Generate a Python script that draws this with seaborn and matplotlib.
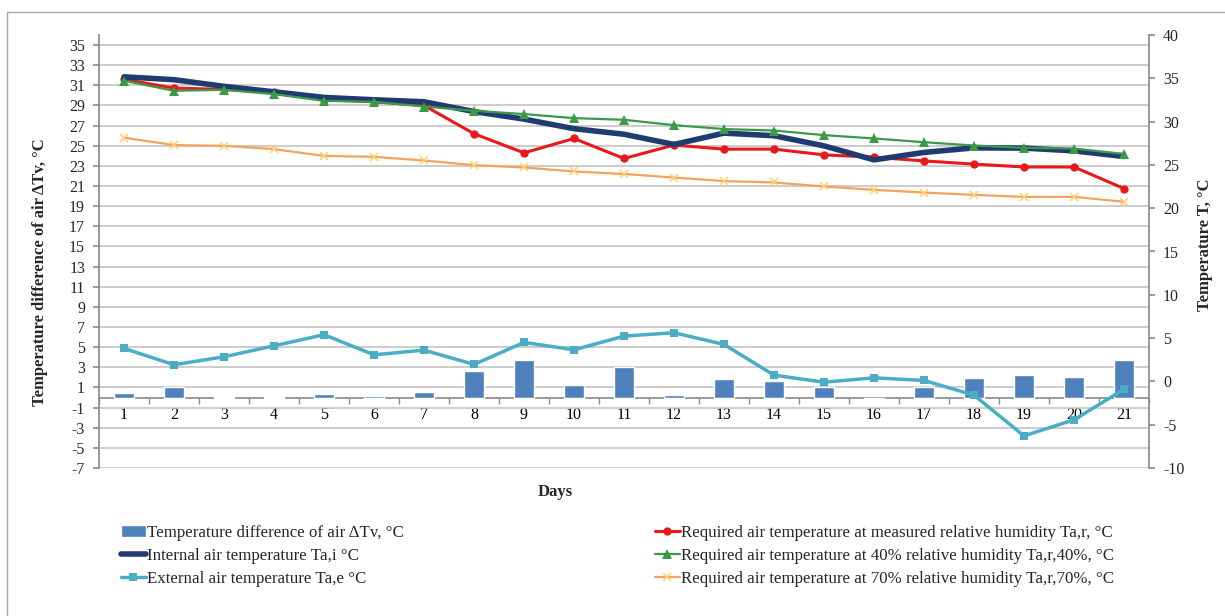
import matplotlib
matplotlib.use("Agg")
import matplotlib.pyplot as plt
from matplotlib.patches import Rectangle
from matplotlib.ticker import FixedLocator, NullFormatter
import seaborn as sns
import pandas as pd
import numpy as np

# data
days = [str(d) for d in range(1, 22)]

# temperature difference of air dTv (left axis)
dtv = [0.4, 1.07, 0.1, 0.1, 0.3, 0.17, 0.5, 2.6, 3.77, 1.2, 3.03,
       0.23, 1.83, 1.67, 1.03, -0.17, 1.0, 1.9, 2.2, 2.03, 3.7]

# temperatures on right axis
t_internal = [35.17, 34.84, 34.07, 33.44, 32.79, 32.52, 32.29, 31.16, 30.29, 29.18, 28.54,
              27.36, 28.67, 28.37, 27.2, 25.58, 26.44, 26.97, 26.94, 26.62, 25.97]
t_required = [34.88, 33.87, 33.72, 33.37, 32.52, 32.29, 31.86, 28.6, 26.39, 28.05, 25.74,
              27.29, 26.82, 26.82, 26.16, 25.89, 25.46, 25.09, 24.76, 24.76, 22.27]
t_req40 = [34.72, 33.56, 33.67, 33.17, 32.4, 32.29, 31.74, 31.25, 30.87, 30.4, 30.21,
           29.59, 29.14, 28.97, 28.44, 28.05, 27.62, 27.24, 26.97, 26.89, 26.27]
t_external = [3.81, 1.92, 2.84, 4.11, 5.39, 3.07, 3.61, 1.96, 4.5, 3.65, 5.23,
              5.62, 4.27, 0.72, -0.09, 0.41, 0.11, -1.59, -6.29, -4.44, -0.9]
t_req70 = [28.14, 27.29, 27.2, 26.82, 26.04, 25.93, 25.51, 24.97, 24.7, 24.24, 23.95,
           23.54, 23.13, 22.97, 22.51, 22.12, 21.81, 21.54, 21.31, 21.31, 20.74]

lbl_bar = "Temperature difference of air \u0394Tv, \u00b0C"
lbl_req = "Required air temperature at measured relative humidity Ta,r, \u00b0C"
lbl_int = "Internal air temperature Ta,i \u00b0C"
lbl_40 = "Required air temperature at 40% relative humidity Ta,r,40%, \u00b0C"
lbl_ext = "External air temperature Ta,e \u00b0C"
lbl_70 = "Required air temperature at 70% relative humidity Ta,r,70%, \u00b0C"

sns.set_theme(style="white")
plt.rcParams['font.family'] = ['Liberation Serif', 'DejaVu Serif']
plt.rcParams['axes.unicode_minus'] = False

df = pd.DataFrame({"day": days, "dtv": dtv})
pos = np.arange(len(days))

fig = plt.figure(figsize=(12.25, 6.16), dpi=100)
ax = fig.add_axes([99 / 1225, 1 - 468 / 616, (1149 - 99) / 1225, (468 - 35) / 616])

sns.barplot(data=df, x="day", y="dtv", ax=ax, color="#4F81BD", saturation=1,
            width=0.41, label=lbl_bar, zorder=3)

ax.set_ylim(-7, 36)
ax.set_yticks(np.arange(-7, 36, 2))
ax.set_xlim(-0.5, 20.5)
ax.yaxis.grid(True, color="#BFBFBF", lw=1.1, zorder=0)
ax.set_axisbelow(True)
ax.spines['bottom'].set_position(('data', 0))
for s in ['top', 'right']:
    ax.spines[s].set_visible(False)
ax.spines['left'].set_color("#8C8C8C")
ax.spines['bottom'].set_color("#8C8C8C")
ax.xaxis.set_minor_locator(FixedLocator(np.arange(-0.5, 21, 1)))
ax.xaxis.set_minor_formatter(NullFormatter())
ax.tick_params(axis='x', which='major', length=0, pad=7, labelsize=11.5, colors="#000000")
ax.tick_params(axis='x', which='minor', length=4, color="#8C8C8C", direction='out', bottom=True)
ax.tick_params(axis='y', length=4, color="#8C8C8C", left=True, labelsize=11.5, pad=6)
ax.set_xlabel("")
ax.set_ylabel("")

ax2 = ax.twinx()
sns.lineplot(x=pos, y=t_required, ax=ax2, color="#E8181B", lw=2.2, marker='o',
             markersize=6, markeredgewidth=0, label=lbl_req, zorder=4)
sns.lineplot(x=pos, y=t_internal, ax=ax2, color="#1F3B6F", lw=4, label=lbl_int, zorder=5)
sns.lineplot(x=pos, y=t_req40, ax=ax2, color="#3A9A48", lw=1.6, marker='^',
             markersize=7, markeredgewidth=0, label=lbl_40, zorder=6)
sns.lineplot(x=pos, y=t_external, ax=ax2, color="#4BACC6", lw=2.5, marker='s',
             markersize=6, markeredgewidth=0, label=lbl_ext, zorder=7)
sns.lineplot(x=pos, y=t_req70, ax=ax2, color="#F5A25D", lw=1.6, marker='x',
             markersize=6, markeredgewidth=1.2, markeredgecolor="#FFD27A", label=lbl_70, zorder=8)

ax2.set_ylim(-10, 40)
ax2.set_yticks(np.arange(-10, 41, 5))
ax2.set_xlim(-0.5, 20.5)
for s in ['top', 'left', 'bottom']:
    ax2.spines[s].set_visible(False)
ax2.spines['right'].set_color("#8C8C8C")
ax2.tick_params(axis='y', length=4, color="#8C8C8C", right=True, labelsize=11.5, pad=6)
ax2.grid(False)
ax2.set_ylabel("")

h1, l1 = ax.get_legend_handles_labels()
h2, l2 = ax2.get_legend_handles_labels()
if ax.get_legend():
    ax.get_legend().remove()
if ax2.get_legend():
    ax2.get_legend().remove()
hd = dict(zip(l1 + l2, h1 + h2))

leg_kw = dict(loc='upper left', frameon=False, fontsize=12.2, handlelength=1.45,
              handletextpad=0.1, labelspacing=0.42, borderpad=0, borderaxespad=0)
fig.legend([hd[lbl_bar], hd[lbl_int], hd[lbl_ext]], [lbl_bar, lbl_int, lbl_ext],
           bbox_to_anchor=(121 / 1225, 1 - 525 / 616), **leg_kw)
fig.legend([hd[lbl_req], hd[lbl_40], hd[lbl_70]], [lbl_req, lbl_40, lbl_70],
           bbox_to_anchor=(655 / 1225, 1 - 525 / 616), **leg_kw)

fig.text(40 / 1225, 1 - 272 / 616, "Temperature difference of air \u0394Tv, \u00b0C",
         rotation=90, ha='center', va='center', fontsize=12, fontweight='bold')
fig.text(1205 / 1225, 1 - 245 / 616, "Temperature T, \u00b0C",
         rotation=90, ha='center', va='center', fontsize=12, fontweight='bold')
fig.text(555 / 1225, 1 - 492 / 616, "Days", ha='center', va='center',
         fontsize=12, fontweight='bold')

fig.patches.append(Rectangle((7 / 1225, -0.05), 1.2, 1 - 12 / 616 + 0.05,
                             transform=fig.transFigure, fill=False,
                             edgecolor="#A6A6A6", lw=1))

fig.savefig("out.png", dpi=100)
